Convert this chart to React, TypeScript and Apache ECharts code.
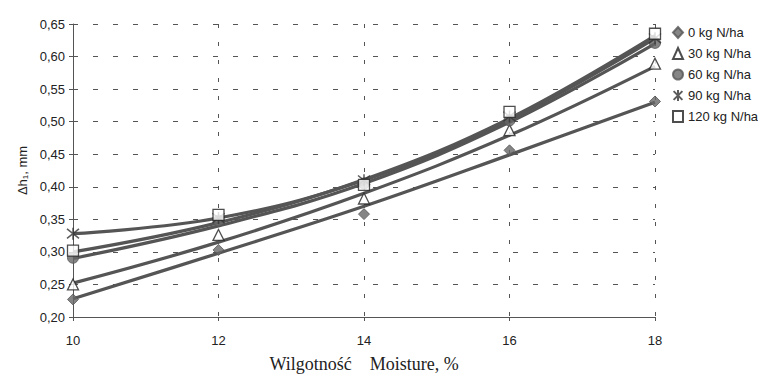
import React, { useEffect, useRef } from "react";
import * as echarts from "echarts";

const moisture = [10, 12, 14, 16, 18];
const seriesNames = ["0 kg N/ha", "30 kg N/ha", "60 kg N/ha", "90 kg N/ha", "120 kg N/ha"];

// measured points
const pts0 = [0.227, 0.303, 0.358, 0.456, 0.531];
const pts30 = [0.25, 0.326, 0.382, 0.487, 0.589];
const pts60 = [0.291, 0.348, 0.405, 0.502, 0.621];
const pts90 = [0.328, 0.352, 0.41, 0.508, 0.628];
const pts120 = [0.302, 0.357, 0.403, 0.515, 0.635];

// trend line values
const fit0 = [0.228, 0.298, 0.37, 0.449, 0.53];
const fit30 = [0.252, 0.315, 0.39, 0.479, 0.585];
const fit60 = [0.29, 0.34, 0.405, 0.499, 0.62];
const fit90 = [0.328, 0.352, 0.41, 0.503, 0.628];
const fit120 = [0.3, 0.345, 0.411, 0.505, 0.632];

const yTicks = [0.2, 0.65];

const points = [pts0, pts30, pts60, pts90, pts120];
const fits = [fit0, fit30, fit60, fit90, fit120];

const starPath = "path://M0,-10L0,10M-8,-8L8,8M-8,8L8,-8";

const symbols = [
  { symbol: "diamond", size: 11, style: { color: "#666", borderColor: "#555", borderWidth: 1 } },
  { symbol: "triangle", size: 11, style: { color: "#fff", borderColor: "#222", borderWidth: 1.3 } },
  { symbol: "circle", size: 11, style: { color: "#666", borderColor: "#555", borderWidth: 1 } },
  { symbol: starPath, size: 12, style: { color: "rgba(0,0,0,0)", borderColor: "#333", borderWidth: 1.5 } },
  { symbol: "rect", size: 11, style: { color: "#fff", borderColor: "#222", borderWidth: 1.3 } },
];

export default function App() {
  const ref = useRef<HTMLDivElement>(null);
  useEffect(() => {
    document.body.style.margin = "0";
    if (!ref.current) return;
    const chart = echarts.init(ref.current, undefined, { renderer: "svg" });
    const lineSeries = fits.map((f) => ({
      type: "line",
      name: "fit",
      data: moisture.map((x, i) => [x, f[i]]),
      smooth: 0.4,
      symbol: "none",
      lineStyle: { color: "#555", width: 3.2 },
      z: 2,
      silent: true,
    }));
    const scatterSeries = points.map((p, k) => ({
      type: "scatter",
      name: seriesNames[k],
      data: moisture.map((x, i) => [x, p[i]]),
      symbol: symbols[k].symbol,
      symbolSize: symbols[k].size,
      itemStyle: symbols[k].style,
      z: 3,
    }));
    chart.setOption({
      animation: false,
      backgroundColor: "#fff",
      grid: { left: 73, right: 103, top: 24, bottom: 61 },
      legend: {
        data: seriesNames,
        orient: "vertical",
        left: 667,
        top: 21,
        itemWidth: 10,
        itemHeight: 11,
        itemGap: 8,
        textStyle: { fontFamily: "Liberation Sans, Arial", fontSize: 13, color: "#222" },
      },
      xAxis: {
        type: "value",
        min: moisture[0],
        max: moisture[moisture.length - 1],
        interval: 2,
        name: "Wilgotność    Moisture, %",
        nameLocation: "middle",
        nameGap: 38,
        nameTextStyle: { fontFamily: "Liberation Serif, Times New Roman", fontSize: 18, color: "#222" },
        axisLine: { show: true, lineStyle: { color: "#555", width: 1 } },
        axisTick: { show: true, length: 4, lineStyle: { color: "#555" } },
        axisLabel: { fontFamily: "Liberation Sans, Arial", fontSize: 13, color: "#222", margin: 17 },
        splitLine: { show: true, lineStyle: { color: "#555", type: [4, 14], width: 1 } },
      },
      yAxis: {
        type: "value",
        min: yTicks[0],
        max: yTicks[1],
        interval: 0.05,
        name: "Δh₁, mm",
        nameLocation: "middle",
        nameGap: 37,
        nameRotate: 90,
        nameTextStyle: { fontFamily: "Liberation Sans, Arial", fontSize: 13, color: "#222" },
        axisLine: { show: true, lineStyle: { color: "#555", width: 1 } },
        axisTick: { show: true, length: 4, inside: false, lineStyle: { color: "#555" } },
        axisLabel: {
          fontFamily: "Liberation Sans, Arial",
          fontSize: 13,
          color: "#222",
          margin: 8,
          formatter: (v: number) => v.toFixed(2).replace(".", ","),
        },
        splitLine: { show: true, lineStyle: { color: "#555", type: [5, 15], width: 1 } },
      },
      series: [...lineSeries, ...scatterSeries],
    });
    return () => chart.dispose();
  }, []);
  return <div ref={ref} style={{ width: 758, height: 378 }} />;
}
